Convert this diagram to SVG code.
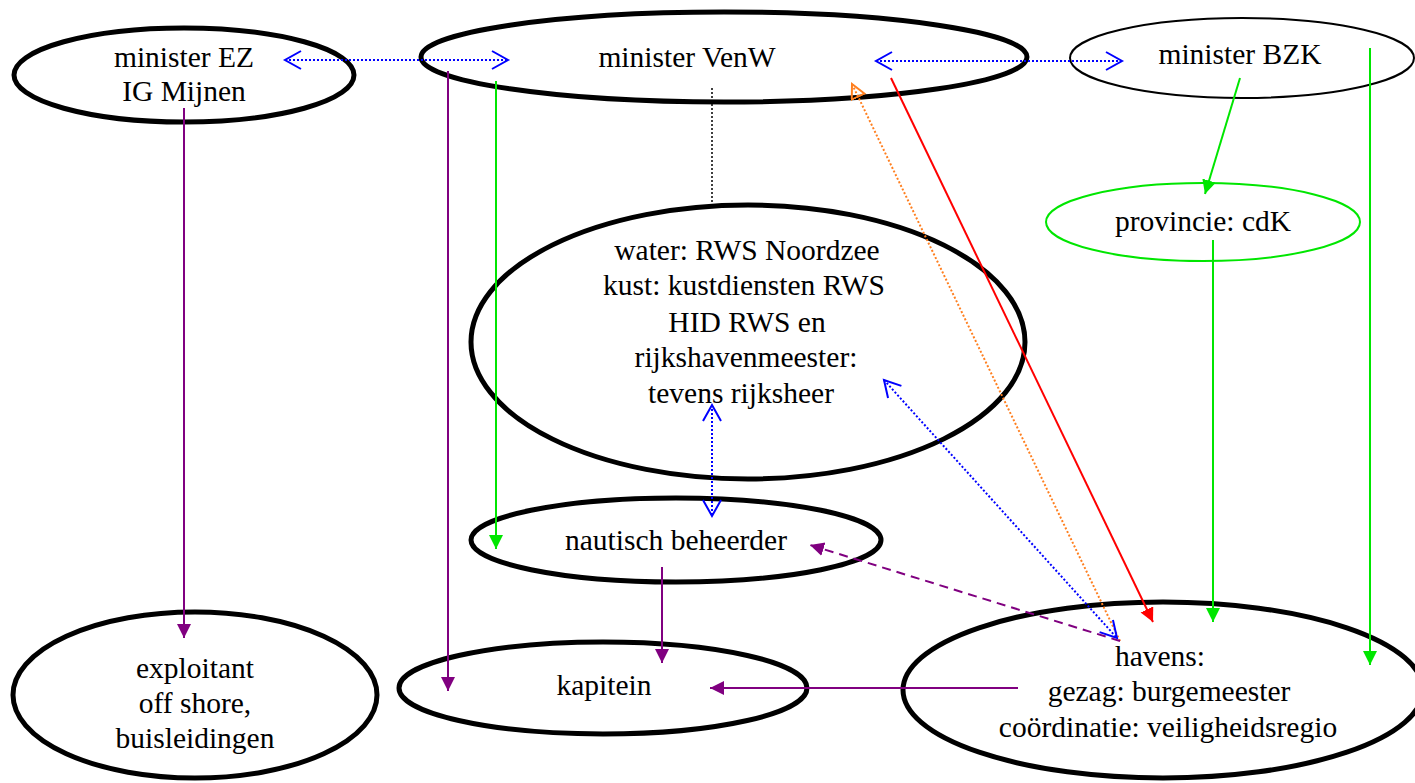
<svg xmlns="http://www.w3.org/2000/svg" width="1415" height="783" viewBox="0 0 1415 783">
<style>
.thick{fill:none;stroke:#000;stroke-width:5}
.thin{fill:none;stroke:#000;stroke-width:2}
.greenE{fill:none;stroke:#00e600;stroke-width:2}
text{font-family:"Liberation Serif","Times New Roman",serif;font-size:29.5px;fill:#000;text-anchor:middle}
.c{fill:none;stroke-width:2}
.purple{stroke:#800080}
.green{stroke:#00e600}
.red{stroke:#ff0000}
.blue{stroke:#0000ff;stroke-dasharray:2 2}
.orange{stroke:#ff7f1f;stroke-dasharray:2 2}
.purpled{stroke:#800080;stroke-dasharray:9 6}
.blk{stroke:#000;stroke-dasharray:2 2;stroke-width:1.5}
</style>
<defs>
<marker id="ap" markerUnits="userSpaceOnUse" markerWidth="16" markerHeight="16" refX="14" refY="7" orient="auto"><path d="M0,0 L14,7 L0,14 z" fill="#800080"/></marker>
<marker id="ag" markerUnits="userSpaceOnUse" markerWidth="16" markerHeight="16" refX="14" refY="7" orient="auto"><path d="M0,0 L14,7 L0,14 z" fill="#00e600"/></marker>
<marker id="ar" markerUnits="userSpaceOnUse" markerWidth="16" markerHeight="16" refX="14" refY="7" orient="auto"><path d="M0,0 L14,7 L0,14 z" fill="#ff0000"/></marker>
<marker id="ab" markerUnits="userSpaceOnUse" markerWidth="20" markerHeight="22" refX="17" refY="10" orient="auto-start-reverse"><path d="M1,1 L17,10 L1,19" fill="none" stroke="#0000ff" stroke-width="2"/></marker>
<marker id="ao" markerUnits="userSpaceOnUse" markerWidth="18" markerHeight="18" refX="15" refY="8" orient="auto-start-reverse"><path d="M1,1 L15,8 L1,15 z" fill="none" stroke="#ff7f1f" stroke-width="2"/></marker>
</defs>
<g id="n-ez"><ellipse class="thick" cx="184" cy="75" rx="170" ry="47"/><text x="184" y="67">minister EZ</text><text x="184" y="101">IG Mijnen</text></g>
<g id="n-venw"><ellipse class="thick" cx="724" cy="57" rx="303" ry="45"/><text x="687" y="67">minister VenW</text></g>
<g id="n-bzk"><ellipse class="thin" cx="1242" cy="58" rx="172" ry="40"/><text x="1240" y="64">minister BZK</text></g>
<g id="n-prov"><ellipse class="greenE" cx="1203" cy="222" rx="157" ry="39"/><text x="1203" y="231">provincie: cdK</text></g>
<g id="n-rws"><ellipse class="thick" cx="748" cy="342" rx="277" ry="137"/>
<text x="747" y="260">water: RWS Noordzee</text>
<text x="744" y="295">kust: kustdiensten RWS</text>
<text x="747" y="332">HID RWS en</text>
<text x="746" y="367">rijkshavenmeester:</text>
<text x="741" y="403">tevens rijksheer</text></g>
<g id="n-naut"><ellipse class="thick" cx="676" cy="540" rx="205" ry="42"/><text x="676" y="550">nautisch beheerder</text></g>
<g id="n-expl"><ellipse class="thick" cx="195" cy="695" rx="182" ry="83"/><text x="195" y="678">exploitant</text><text x="195" y="713">off shore,</text><text x="195" y="748">buisleidingen</text></g>
<g id="n-kap"><ellipse class="thick" cx="603" cy="688" rx="204" ry="46"/><text x="604" y="695">kapitein</text></g>
<g id="n-havens"><ellipse class="thick" cx="1163" cy="690" rx="260" ry="88"/><text x="1160" y="666">havens:</text><text x="1169" y="701">gezag: burgemeester</text><text x="1168" y="737">coördinatie: veiligheidsregio</text></g>
<g id="connectors">
<line class="c blue" x1="285" y1="60" x2="508" y2="60" marker-start="url(#ab)" marker-end="url(#ab)"/>
<line class="c blue" x1="876" y1="61" x2="1122" y2="61" marker-start="url(#ab)" marker-end="url(#ab)"/>
<line class="c purple" x1="184" y1="108" x2="184" y2="638" marker-end="url(#ap)"/>
<line class="c purple" x1="448" y1="71" x2="448" y2="691" marker-end="url(#ap)"/>
<line class="c green" x1="496" y1="81" x2="496" y2="549" marker-end="url(#ag)"/>
<line class="blk" x1="712" y1="88" x2="712" y2="207"/>
<line class="c orange" x1="1120" y1="641" x2="852" y2="84" marker-end="url(#ao)"/>
<line class="c red" x1="891" y1="78" x2="1153" y2="622" marker-end="url(#ar)"/>
<line class="c green" x1="1240" y1="78" x2="1205" y2="194" marker-end="url(#ag)"/>
<line class="c green" x1="1213" y1="240" x2="1213" y2="622" marker-end="url(#ag)"/>
<line class="c green" x1="1370" y1="48" x2="1370" y2="665" marker-end="url(#ag)"/>
<line class="c blue" x1="712" y1="405" x2="712" y2="516" marker-start="url(#ab)" marker-end="url(#ab)"/>
<line class="c blue" x1="884" y1="380" x2="1117" y2="638" marker-start="url(#ab)" marker-end="url(#ab)"/>
<line class="c purpled" x1="1120" y1="641" x2="810" y2="545" marker-end="url(#ap)"/>
<line class="c purple" x1="662" y1="567" x2="662" y2="663" marker-end="url(#ap)"/>
<line class="c purple" x1="1018" y1="688" x2="710" y2="688" marker-end="url(#ap)"/>
</g>
</svg>
